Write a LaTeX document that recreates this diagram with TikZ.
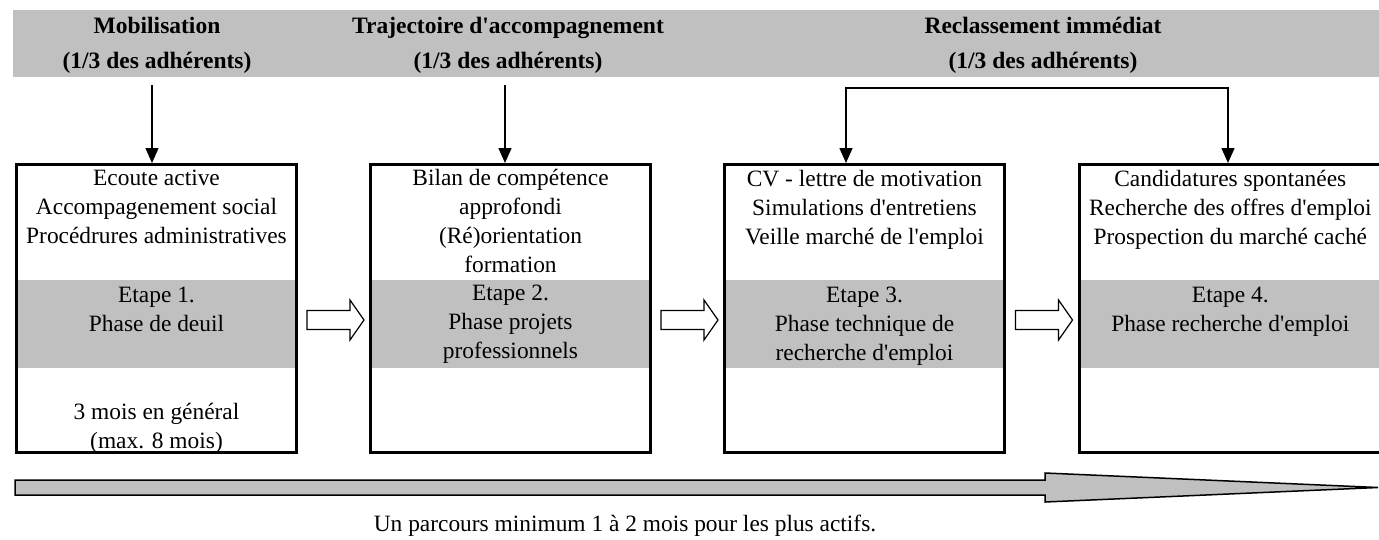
\documentclass[tikz,border=0pt]{standalone}
\usepackage{fontspec}
\setmainfont{Liberation Serif}[Ligatures=TeXOff]
\usetikzlibrary{arrows.meta,calc}
\definecolor{silver}{RGB}{192,192,192}
\newcommand{\bodysize}{\fontsize{23.4}{29}\selectfont}
\newcommand{\headsize}{\fontsize{23.5}{35}\selectfont\bfseries}

\begin{document}
\begin{tikzpicture}[x=1pt,y=-1pt,
	>={Triangle[length=15pt,width=13pt]},
	box/.style={draw,line width=2.6pt,minimum height=288.4pt,anchor=north west,inner sep=0pt},
	txt/.style={align=center,font=\bodysize,inner sep=0pt,anchor=north},
	head/.style={align=center,font=\headsize,inner sep=0pt,anchor=north},
	conn/.style={line width=1.5pt,->},
	hollow/.style={draw,fill=white,line width=1.2pt},
	bigarrow/.style={draw,fill=silver,line width=1.5pt}]
	\useasboundingbox (0,0) rectangle (1379,539);
	\clip (0,0) rectangle (1379,539);

	% bandeau du haut
	\fill[silver] (13,10) rectangle (1385,77);
	\node[head] (h1) at (157,17) {Mobilisation\\(1/3 des adhérents)};
	\node[head] (h2) at (508,17) {Trajectoire d'accompagnement\\(1/3 des adhérents)};
	\node[head] (h3) at (1043,17) {Reclassement immédiat\\(1/3 des adhérents)};

	% les quatre etapes (la derniere depasse le bord droit)
	\foreach \x/\bw/\n in {15/280.4/1,369/280.4/2,723/280.4/3,1078/312/4}{
		\fill[silver] (\x,280) rectangle ++(\bw+2.6,88);
		\node[box,minimum width=\bw pt] (b\n) at (\x,163) {};
	}
	\node[txt] (t1) at ($(b1.north)+(0,7)$) {Ecoute active\\Accompagenement social\\Procédrures administratives};
	\node[txt] (e1) at ($(b1.north)+(0,124)$) {Etape 1.\\Phase de deuil};
	\node[txt] (d1) at ($(b1.north)+(0,240)$) {3 mois en général\\(max. 8 mois)};
	\node[txt] (t2) at ($(b2.north)+(0,6)$) {Bilan de compétence\\approfondi\\(Ré)orientation\\formation};
	\node[txt] (e2) at ($(b2.north)+(0,122)$) {Etape 2.\\Phase projets\\professionnels};
	\node[txt] (t3) at ($(b3.north)+(0,7)$) {CV - lettre de motivation\\Simulations d'entretiens\\Veille marché de l'emploi};
	\node[txt] (e3) at ($(b3.north)+(0,124)$) {Etape 3.\\Phase technique de\\recherche d'emploi};
	\node[txt] (t4) at ($(b4.north)+(-5,7)$) {Candidatures spontanées\\Recherche des offres d'emploi\\Prospection du marché caché};
	\node[txt] (e4) at ($(b4.north)+(-5,124)$) {Etape 4.\\Phase recherche d'emploi};

	% fleches creuses entre les etapes
	\foreach \l/\r in {b1/b2,b2/b3,b3/b4}
		\draw[hollow] ($(\l.east)!.5!(\r.west)+(-26.5,2)$) -- ++(43,0) -- ++(0,-10.5) -- ++(14,20) -- ++(-14,20) -- ++(0,-10.5) -- ++(-43,0) -- cycle;

	% fleches du bandeau vers les etapes
	\coordinate (a1) at (152,85);
	\coordinate (a2) at (505,85);
	\coordinate (a3) at (846,88);
	\coordinate (a4) at (1228,88);
	\draw[conn] (a1) -- (a1 |- b1.north);
	\draw[conn] (a2) -- (a2 |- b2.north);
	\draw[conn,<->] (a3 |- b3.north) -- (a3) -- (a4) -- (a4 |- b4.north);

	% grande fleche du temps
	\draw[bigarrow] (15,480) -- (1045,480) -- (1045,473) -- (1378,487.5) -- (1045,502) -- (1045,495) -- (15,495) -- cycle;
	\node[font=\bodysize,anchor=base] (note) at (625,531) {Un parcours minimum 1 à 2 mois pour les plus actifs.};
\end{tikzpicture}
\end{document}
